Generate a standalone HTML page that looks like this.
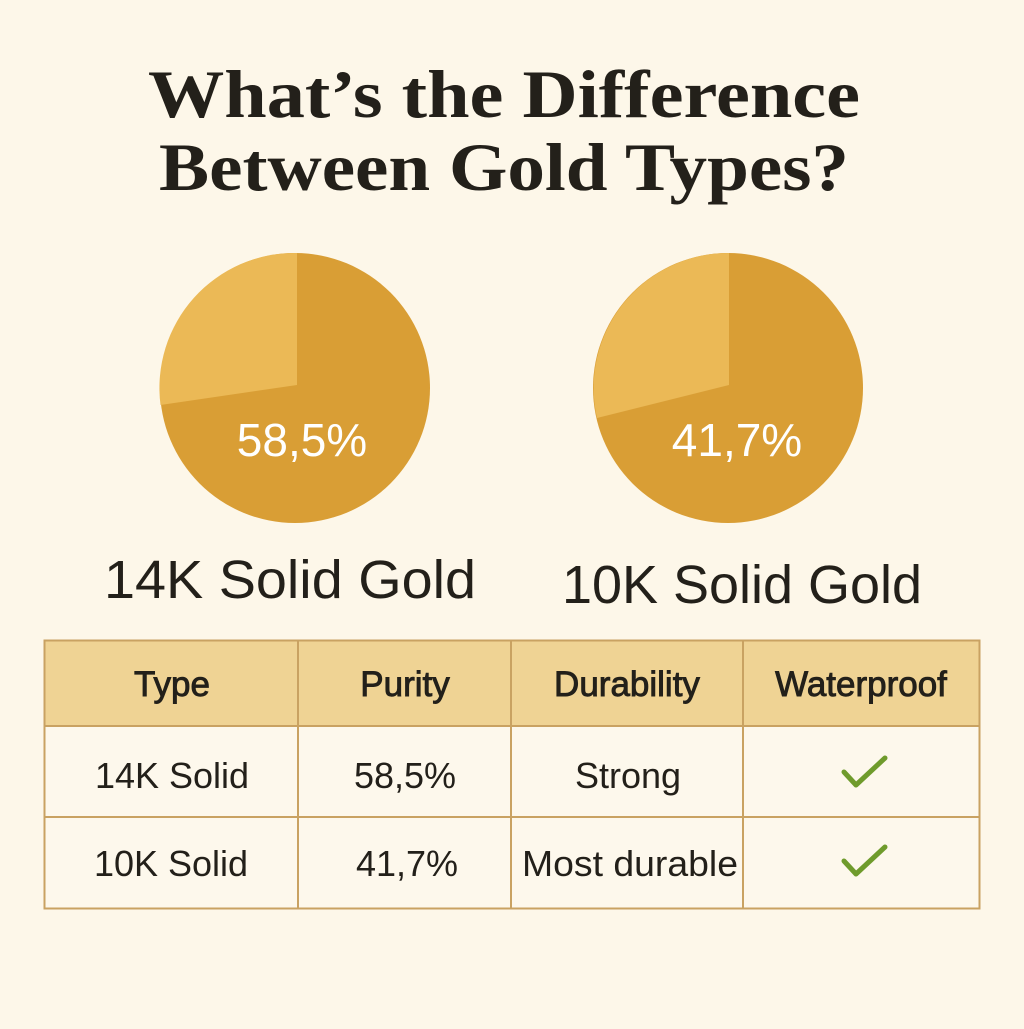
<!DOCTYPE html>
<html><head><style>html,body{margin:0;padding:0;background:#fdf7e9;}</style></head>
<body>
<svg width="1024" height="1024" viewBox="0 0 1024 1024" xmlns="http://www.w3.org/2000/svg">
<rect width="1024" height="1024" fill="#fdf7e9"/>
<g font-family="Liberation Serif, serif" font-weight="bold" fill="#23201a" font-size="68" text-anchor="middle">
<text x="504" y="117" textLength="712" lengthAdjust="spacingAndGlyphs">What’s the Difference</text>
<text x="504" y="190" textLength="690" lengthAdjust="spacingAndGlyphs">Between Gold Types?</text>
</g>
<circle cx="295" cy="388" r="135" fill="#d99e35"/>
<path d="M297,253 L297,385 L160.5,405 A135,135 0 0 1 297,253 Z" fill="#ebb956"/>
<circle cx="728" cy="388" r="135" fill="#d99e35"/>
<path d="M729,253 L729,385 L597,418 A135,135 0 0 1 729,253 Z" fill="#ebb956"/>
<g font-family="Liberation Sans, sans-serif" fill="#fff" font-size="46" text-anchor="middle">
<text x="302" y="456">58,5%</text>
<text x="737" y="456">41,7%</text>
</g>
<g font-family="Liberation Sans, sans-serif" fill="#23201a" font-size="54">
<text x="104" y="598" textLength="372" lengthAdjust="spacingAndGlyphs">14K Solid Gold</text>
<text x="562" y="603" textLength="360" lengthAdjust="spacingAndGlyphs">10K Solid Gold</text>
</g>
<rect x="44.5" y="640.5" width="935" height="86" fill="#efd394"/>
<rect x="44.5" y="726.5" width="935" height="182" fill="#fdf8ec"/>
<g stroke="#c9a262" stroke-width="2" fill="none">
<rect x="44.5" y="640.5" width="935" height="268"/>
<line x1="44" y1="726" x2="980" y2="726"/>
<line x1="44" y1="817" x2="980" y2="817"/>
<line x1="298" y1="640" x2="298" y2="909"/>
<line x1="511" y1="640" x2="511" y2="909"/>
<line x1="743" y1="640" x2="743" y2="909"/>
</g>
<g font-family="Liberation Sans, sans-serif" fill="#23201a" font-size="36" text-anchor="middle">
<g font-size="35" stroke="#23201a" stroke-width="0.9">
<text x="172" y="696">Type</text>
<text x="405" y="696">Purity</text>
<text x="627" y="696">Durability</text>
<text x="861" y="696">Waterproof</text>
</g>
<text x="172" y="788">14K Solid</text>
<text x="405" y="788">58,5%</text>
<text x="628" y="788">Strong</text>
<text x="171" y="876">10K Solid</text>
<text x="407" y="876">41,7%</text>
<text x="630" y="876" textLength="216" lengthAdjust="spacingAndGlyphs">Most durable</text>
</g>
<g stroke="#6f9b2c" stroke-width="5" fill="none" stroke-linecap="round" stroke-linejoin="round">
<path d="M844,772 L856,785 L885,758"/>
<path d="M844,861 L856,874 L885,847"/>
</g>
</svg>
</body></html>
